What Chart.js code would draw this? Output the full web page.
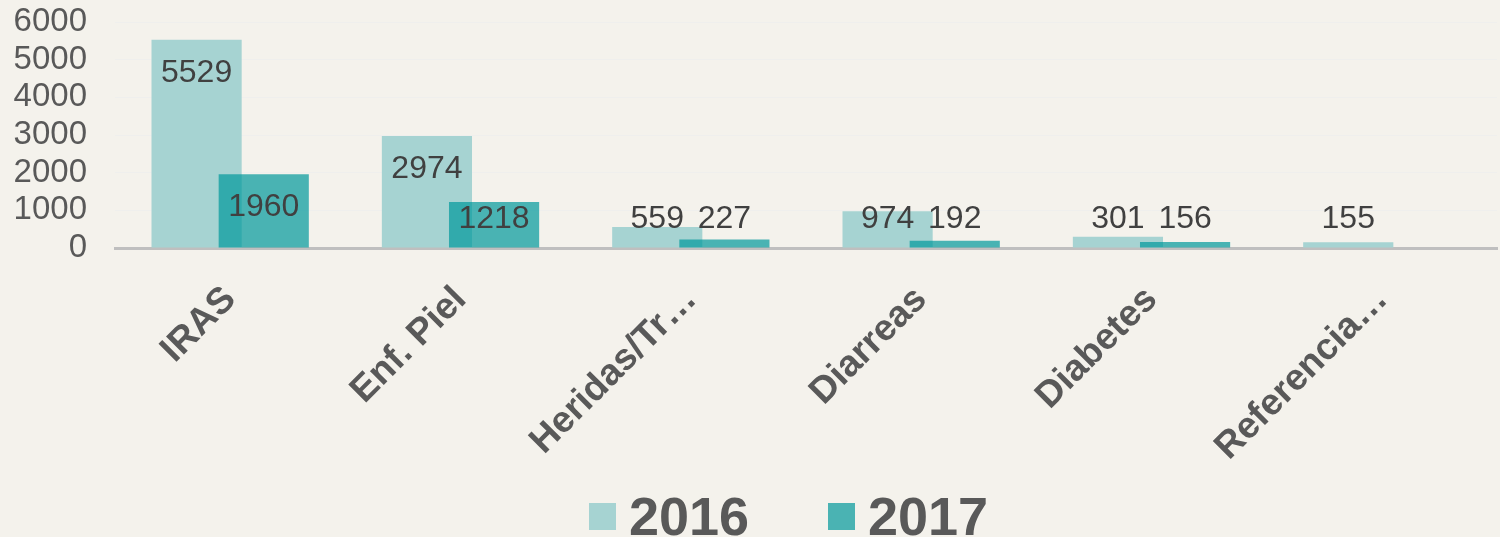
<!DOCTYPE html>
<html>
<head>
<meta charset="utf-8">
<script src="https://cdn.jsdelivr.net/npm/chart.js@4/dist/chart.umd.min.js"></script>
<style>
  html, body { margin: 0; padding: 0; background: #f4f2ec; overflow: hidden; }
  #wrap { position: relative; width: 1500px; height: 537px; }
  .leg { position: absolute; top: 489px; display: flex; align-items: flex-start;
         font-family: "Liberation Sans", Arial, sans-serif; font-weight: bold;
         font-size: 54px; line-height: 54px; color: #595959; }
  .leg i { display: block; width: 27px; height: 27px; margin-top: 14px; margin-right: 13px; }
</style>
</head>
<body>
<div id="wrap">
  <canvas id="chart" width="1500" height="537"></canvas>
  <div class="leg" style="left:589px"><i style="background:#a6d3d2"></i><span>2016</span></div>
  <div class="leg" style="left:828px"><i style="background:#4ab3b3"></i><span>2017</span></div>
</div>
<script>
// datos
const categorias = ['IRAS', 'Enf. Piel', 'Heridas/Tr…', 'Diarreas', 'Diabetes', 'Referencia…'];
const valores2016 = [5529, 2974, 559, 974, 301, 155];
const valores2017 = [1960, 1218, 227, 192, 156, null];
const ticksY = [0, 1000, 2000, 3000, 4000, 5000, 6000];

const FONT = '"Liberation Sans", Arial, sans-serif';

/* 2017 se dibuja encima de 2016 */
const ordenPlugin = {
    id: 'ordenBarras',
    beforeDatasetDraw(chart, args) {
        if (args.index === 1 && !chart.$dibujando2017) return false;
    },
    afterDatasetsDraw(chart) {
        chart.$dibujando2017 = true;
        const meta = chart.getDatasetMeta(1);
        chart.ctx.save();
        meta.controller.draw();
        chart.ctx.restore();
        chart.$dibujando2017 = false;

        // etiquetas de datos
        const ctx = chart.ctx;
        const base = chart.scales.y.getPixelForValue(0);
        ctx.save();
        ctx.font = '32px ' + FONT;
        ctx.fillStyle = '#404040';
        ctx.textAlign = 'center';
        ctx.textBaseline = 'middle';
        chart.data.datasets.forEach((ds, i) => {
            chart.getDatasetMeta(i).data.forEach((bar, j) => {
                const v = ds.data[j];
                if (v === null || v === undefined) return;
                const y = Math.min(bar.y + 33, base - 29);
                ctx.fillText(String(v), bar.x, y);
            });
        });
        ctx.restore();
    }
};

new Chart(document.getElementById('chart'), {
    type: 'bar',
    data: {
        labels: categorias,
        datasets: [
            { label: '2016', data: valores2016, backgroundColor: '#a6d3d2',
              categoryPercentage: 0.583, barPercentage: 1.343 },
            { label: '2017', data: valores2017, backgroundColor: 'rgba(0,152,155,0.7)',
              categoryPercentage: 0.583, barPercentage: 1.343 }
        ]
    },
    options: {
        responsive: false,
        animation: false,
        layout: { padding: { top: 22, right: 3, bottom: 0, left: 0 } },
        plugins: { legend: { display: false }, tooltip: { enabled: false } },
        scales: {
            x: {
                grid: { display: false },
                border: { display: true, color: '#bfbfbf', width: 3 },
                ticks: {
                    color: '#595959', font: { family: FONT, size: 37, weight: 'bold' },
                    minRotation: 45, maxRotation: 45, autoSkip: false, padding: 22
                },
                afterFit: (s) => { s.height = 289; s.paddingLeft = 0; s.paddingRight = 0; }
            },
            y: {
                min: 0, max: 6000,
                afterBuildTicks: (s) => { s.ticks = ticksY.map(v => ({ value: v })); },
                grid: { color: '#efefed', lineWidth: 1, drawTicks: false },
                border: { display: false },
                ticks: {
                    color: '#595959', font: { family: FONT, size: 33 }, padding: 28,
                    autoSkip: false, callback: (v) => String(v)
                },
                afterFit: (s) => { s.width = 115; s.paddingTop = 0; s.paddingBottom = 0; }
            }
        }
    },
    plugins: [ordenPlugin]
});
</script>
</body>
</html>
